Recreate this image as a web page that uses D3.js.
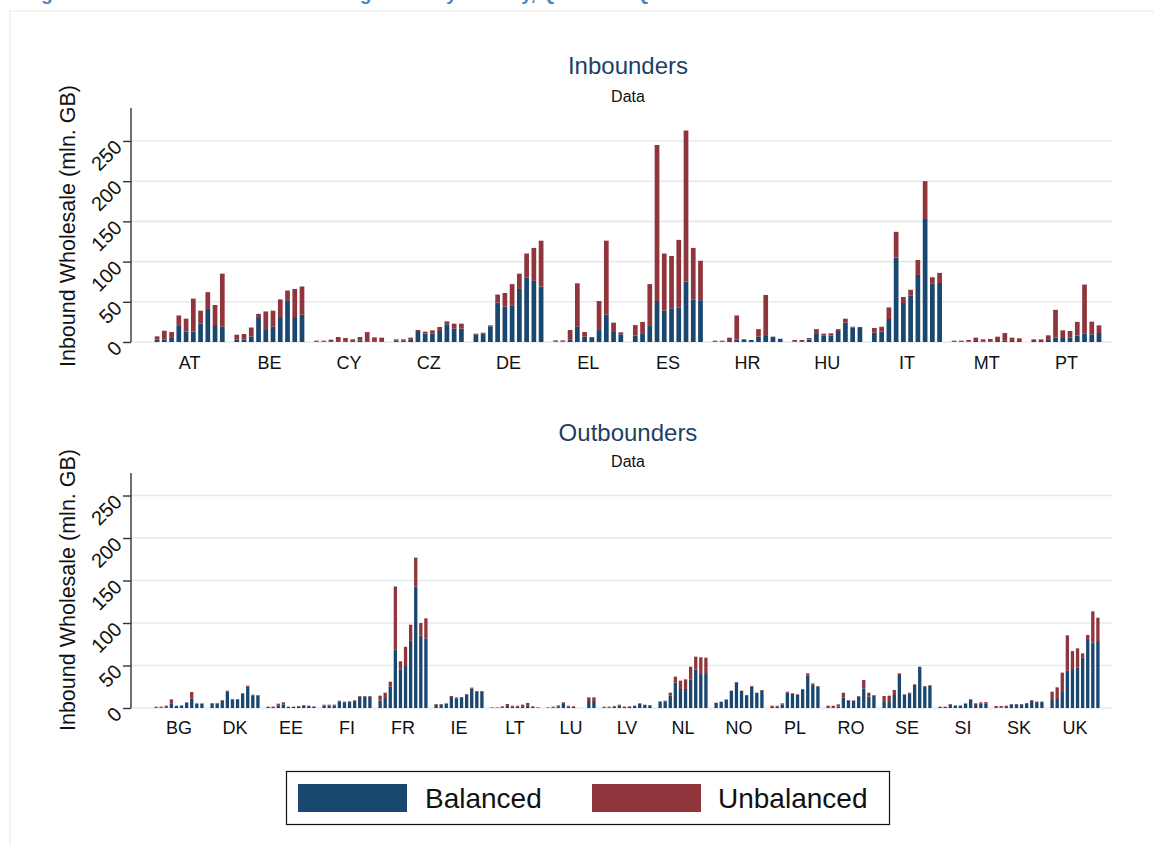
<!DOCTYPE html>
<html>
<head>
<meta charset="utf-8">
<script src="https://cdn.jsdelivr.net/npm/d3@7"></script>
<style>
  html, body { margin: 0; padding: 0; background: #fff; }
  svg { display: block; font-family: Arial, "Liberation Sans", sans-serif; }
</style>
</head>
<body>
<svg id="chart" width="1154" height="846"></svg>
<script>
// ---------- DATA ----------
const quarters = ["Q1","Q2","Q3","Q4","Q5","Q6","Q7","Q8","Q9","Q10"];
const seriesNames = ["Balanced", "Unbalanced"];
const yTicks = [0, 50, 100, 150, 200, 250];

const inCountries = ["AT","BE","CY","CZ","DE","EL","ES","HR","HU","IT","MT","PT"];
const inBalanced = [
  [3, 3, 6, 20, 13, 13, 23, 41, 21, 19],
  [3, 3, 7, 31, 16, 19, 31, 52, 31, 34],
  [0.5, 0.5, 1, 1, 1, 1, 2, 1, 1, 1],
  [1.7, 1.7, 3.3, 13.7, 10.4, 10.4, 13.7, 22, 16.6, 16.6],
  [9.5, 10.4, 19.5, 49, 44, 45, 66, 80, 76, 69],
  [0.5, 0.5, 3.3, 19, 6.6, 6, 15, 34, 12.5, 9.5],
  [8, 11, 20, 51, 39, 42, 43, 75, 53, 52],
  [0.5, 0.5, 1.2, 3, 3.3, 2.5, 6.6, 7.5, 6.6, 4],
  [0.5, 1, 3, 11, 8, 8, 13.7, 24, 18, 17.4],
  [11.6, 13, 28.6, 105, 48.5, 58, 83.4, 153, 73, 73.4],
  [0.3, 0.3, 0.5, 1.2, 0.8, 0.8, 1.2, 2, 1.2, 1.2],
  [1.2, 1.2, 2.5, 5.4, 5, 5.4, 8, 10.8, 9.5, 11.2]
];
const inUnbalanced = [
  [4, 11, 6.5, 13, 16, 41, 16, 21, 25, 66],
  [6, 7, 11, 4, 22, 20, 22, 12, 35, 35],
  [1.2, 1.2, 1.9, 5.2, 4, 2.3, 4.2, 11.3, 4.8, 4.4],
  [1.6, 1.6, 2.1, 1.3, 2.5, 4.1, 5, 3.7, 6.2, 6.2],
  [0.9, 1.2, 1.2, 10, 17, 27, 19, 30, 41, 57],
  [1.5, 1.5, 11.7, 54, 5.9, 0, 36, 92, 11.5, 2.5],
  [13, 14, 52, 194, 71, 65, 84, 188, 64, 49],
  [1.2, 1.2, 4.2, 30, 0, 0, 9.4, 51, 0, 0],
  [2, 1.5, 2, 5, 2.4, 2.8, 2.3, 5, 1, 1.3],
  [5.8, 6, 14.4, 32, 7.5, 7, 18.6, 47, 7.5, 12.6],
  [1.4, 1.4, 2, 4.2, 2.5, 2.9, 5.4, 9.2, 4.2, 3.4],
  [2.1, 2.1, 5.8, 34.6, 9.5, 8.3, 17, 60.6, 15.8, 9.5]
];

const outCountries = ["BG","DK","EE","FI","FR","IE","LT","LU","LV","NL","NO","PL","RO","SE","SI","SK","UK"];
const outBalanced = [
  [0.2, 0.2, 0.8, 5.5, 2.4, 2.7, 6.3, 11, 5.1, 5.1],
  [5.1, 5.1, 8.6, 19.6, 9.8, 9.8, 16.5, 25, 14.9, 14.5],
  [1.2, 1.2, 3.1, 4.3, 1.2, 1.2, 2, 3.1, 2.4, 1.6],
  [2.7, 2.7, 2.7, 7.8, 6.7, 7, 8.2, 13.3, 13.3, 13.3],
  [8.6, 11.8, 25, 69, 45.5, 49.4, 79, 143, 85, 82],
  [3.9, 3.9, 5.1, 12.9, 11.4, 11.8, 15.7, 22.7, 19, 19],
  [0.4, 0.4, 0.8, 2.4, 1.6, 1.6, 2, 3.1, 1.2, 0.4],
  [0.4, 0.8, 1.6, 4.7, 1.6, 1.2, 0, 0, 8.2, 8.2],
  [0.8, 0.8, 1.6, 2.7, 1.2, 1.6, 2.4, 4.7, 3.5, 3.1],
  [7, 7.8, 14.5, 30.2, 22.4, 22.4, 33.7, 45.5, 40, 40],
  [6, 7.2, 9.9, 20, 30.2, 20, 15, 25.5, 17.7, 20.9],
  [1.2, 1.6, 4.3, 18, 16.5, 15.3, 21.6, 38.4, 27.5, 25.1],
  [0, 0, 1.6, 12.5, 8.6, 8.6, 13.3, 23, 13.3, 14.5],
  [7, 7, 15.3, 38.8, 15.3, 17.3, 27, 48.2, 25.1, 25.9],
  [1.2, 1.2, 4.3, 2.7, 2.7, 5.1, 9.4, 3.5, 5.1, 5.1],
  [0, 0.4, 1.2, 4.3, 4.3, 4.3, 5.5, 8.6, 7, 7],
  [9.4, 10.6, 18.8, 43.9, 44.7, 47.8, 59.6, 80, 76.9, 78.8]
];
const outUnbalanced = [
  [1.4, 1.4, 1.9, 4.7, 0.3, 0.4, 0.4, 7.8, 0.4, 0.4],
  [0.8, 0.8, 0.8, 0.8, 0.8, 0.8, 0.8, 1.3, 0.8, 0.8],
  [0.4, 0.4, 2, 2.4, 0.4, 0.4, 0.4, 0.4, 0.3, 0.4],
  [1.2, 1.2, 1.2, 0.8, 0.8, 0.8, 0.8, 0.8, 0.8, 0.8],
  [5.9, 6.2, 6, 74, 9.5, 22.6, 19, 34, 15, 23.5],
  [0.8, 0.8, 0.4, 1.2, 1.1, 1.1, 0.8, 1.3, 1, 1],
  [0.4, 0.4, 1.2, 2.3, 1.1, 1.1, 1.9, 2.8, 0.8, 0.4],
  [0.4, 0.8, 1.5, 2, 1.1, 0.8, 0, 0, 4.3, 4.3],
  [0.8, 0.8, 0.8, 1.2, 0.4, 0.4, 0.3, 0.8, 0.4, 0.4],
  [0.8, 0.8, 3.5, 6.7, 9.8, 11.3, 14.9, 14.9, 19.6, 19.2],
  [0.3, 0.3, 0.3, 0.4, 0.4, 0.4, 0.3, 0.4, 0.3, 0.3],
  [1.5, 1.1, 1.2, 1.2, 0.8, 0.8, 0.8, 2.4, 1.5, 0.8],
  [2.7, 2.7, 2.7, 5.5, 0.8, 0.4, 0.8, 9.9, 4.7, 0.8],
  [7.1, 7.5, 5.9, 2, 0.8, 0.7, 0.8, 0.4, 0.8, 0.8],
  [0.4, 0.4, 0.4, 0.4, 0.4, 0.4, 0.8, 2, 1.6, 1.9],
  [2.4, 2, 1.5, 0.4, 0.4, 0.4, 0.4, 0.8, 0.5, 0.5],
  [9.8, 13.7, 22.8, 41.6, 22.3, 22.4, 4.7, 5.9, 36.8, 27.5]
];

// ---------- STYLE ----------
const colors = { Balanced: "#1a476f", Unbalanced: "#90353b" };
const yTitle = "Inbound Wholesale (mln. GB)";

const svg = d3.select("#chart");

// page frame + caption cut off at the top edge (as in the reference)
svg.append("rect").attr("x", 10).attr("y", 11).attr("width", 1300).attr("height", 1000)
  .attr("fill", "#fff").attr("stroke", "#efefef").attr("stroke-width", 1.5);
svg.append("text").attr("x", 24).attr("y", 0)
  .attr("font-size", 19).attr("font-weight", "bold").attr("fill", "#4f81bd")
  .text("Figure 16: Inbound wholesale roaming traffic by country, Q4 2014 – Q1 2017");

function panel(cfg) {
  const { countries, balanced, unbalanced, title, y0, ymax, ytop,
          start, step, xLabelY, titleY, subY, yTitleY } = cfg;
  const left = 131, right = 1112;

  const x0 = d3.scaleBand().domain(countries)
    .range([start, start + step * countries.length]).padding(0);
  const slot = step / 11;
  const x1 = d3.scaleBand().domain(quarters)
    .range([slot * 0.5, slot * 10.5]).paddingInner(0.35).paddingOuter(0.175);
  const y = d3.scaleLinear().domain([0, ymax]).range([y0, ytop]);

  const g = svg.append("g");

  // gridlines
  g.selectAll("line.grid").data(yTicks).join("line")
    .attr("x1", left).attr("x2", right)
    .attr("y1", d => y(d)).attr("y2", d => y(d))
    .attr("stroke", "#e6e9ec").attr("stroke-width", 1.6);

  // stacked bars
  const rows = [];
  countries.forEach((c, i) => {
    quarters.forEach((q, j) => {
      rows.push({ country: c, quarter: q, Balanced: balanced[i][j], Unbalanced: unbalanced[i][j] });
    });
  });
  const stack = d3.stack().keys(seriesNames)(rows);
  stack.forEach(layer => {
    g.append("g").attr("fill", colors[layer.key])
      .selectAll("rect").data(layer).join("rect")
      .attr("x", d => x0(d.data.country) + x1(d.data.quarter))
      .attr("width", x1.bandwidth())
      .attr("y", d => y(d[1]))
      .attr("height", d => Math.max(0, y(d[0]) - y(d[1])));
  });

  // y axis
  const yAxis = d3.axisLeft(y).tickValues(yTicks).tickSize(8).tickSizeOuter(0);
  const ag = g.append("g").attr("transform", `translate(${left},0)`).call(yAxis);
  ag.select(".domain").attr("stroke", "#333").attr("stroke-width", 1.4)
    .attr("d", `M0,${ytop}V${y0}`);
  ag.selectAll(".tick line").attr("stroke", "#333").attr("stroke-width", 1.4);
  ag.selectAll(".tick text")
    .attr("font-size", 20).attr("fill", "#111")
    .attr("x", null).attr("dy", null)
    .attr("text-anchor", "end")
    .attr("transform", "translate(-8,7) rotate(-45)");

  // x labels
  g.selectAll("text.xl").data(countries).join("text")
    .attr("x", d => x0(d) + x0.bandwidth() / 2)
    .attr("y", xLabelY)
    .attr("text-anchor", "middle").attr("font-size", 18).attr("fill", "#111")
    .text(d => d);

  // titles
  g.append("text").attr("x", 628).attr("y", titleY).attr("text-anchor", "middle")
    .attr("font-size", 24).attr("fill", "#1e3f5f").text(title);
  g.append("text").attr("x", 628).attr("y", subY).attr("text-anchor", "middle")
    .attr("font-size", 16).attr("fill", "#111").text("Data");

  // y title
  g.append("text")
    .attr("transform", `translate(75,${yTitleY}) rotate(-90)`)
    .attr("text-anchor", "middle").attr("font-size", 21.5).attr("fill", "#111")
    .text(yTitle);
}

panel({
  countries: inCountries, balanced: inBalanced, unbalanced: inUnbalanced,
  title: "Inbounders", y0: 342, ymax: 291, ytop: 108,
  start: 149.85, step: 79.7, xLabelY: 369, titleY: 74, subY: 102, yTitleY: 226
});
panel({
  countries: outCountries, balanced: outBalanced, unbalanced: outUnbalanced,
  title: "Outbounders", y0: 708, ymax: 276.5, ytop: 473,
  start: 151, step: 56, xLabelY: 734, titleY: 441, subY: 467, yTitleY: 590
});

// legend
const lg = svg.append("g");
lg.append("rect").attr("x", 286.5).attr("y", 771.5).attr("width", 603).attr("height", 53)
  .attr("fill", "#fff").attr("stroke", "#111").attr("stroke-width", 1.2);
const legendItems = [
  { key: "Balanced", sx: 298, tx: 425 },
  { key: "Unbalanced", sx: 592, tx: 718 }
];
legendItems.forEach(it => {
  lg.append("rect").attr("x", it.sx).attr("y", 784).attr("width", 109).attr("height", 28)
    .attr("fill", colors[it.key]);
  lg.append("text").attr("x", it.tx).attr("y", 808).attr("font-size", 28).attr("fill", "#111")
    .text(it.key);
});
</script>
</body>
</html>
